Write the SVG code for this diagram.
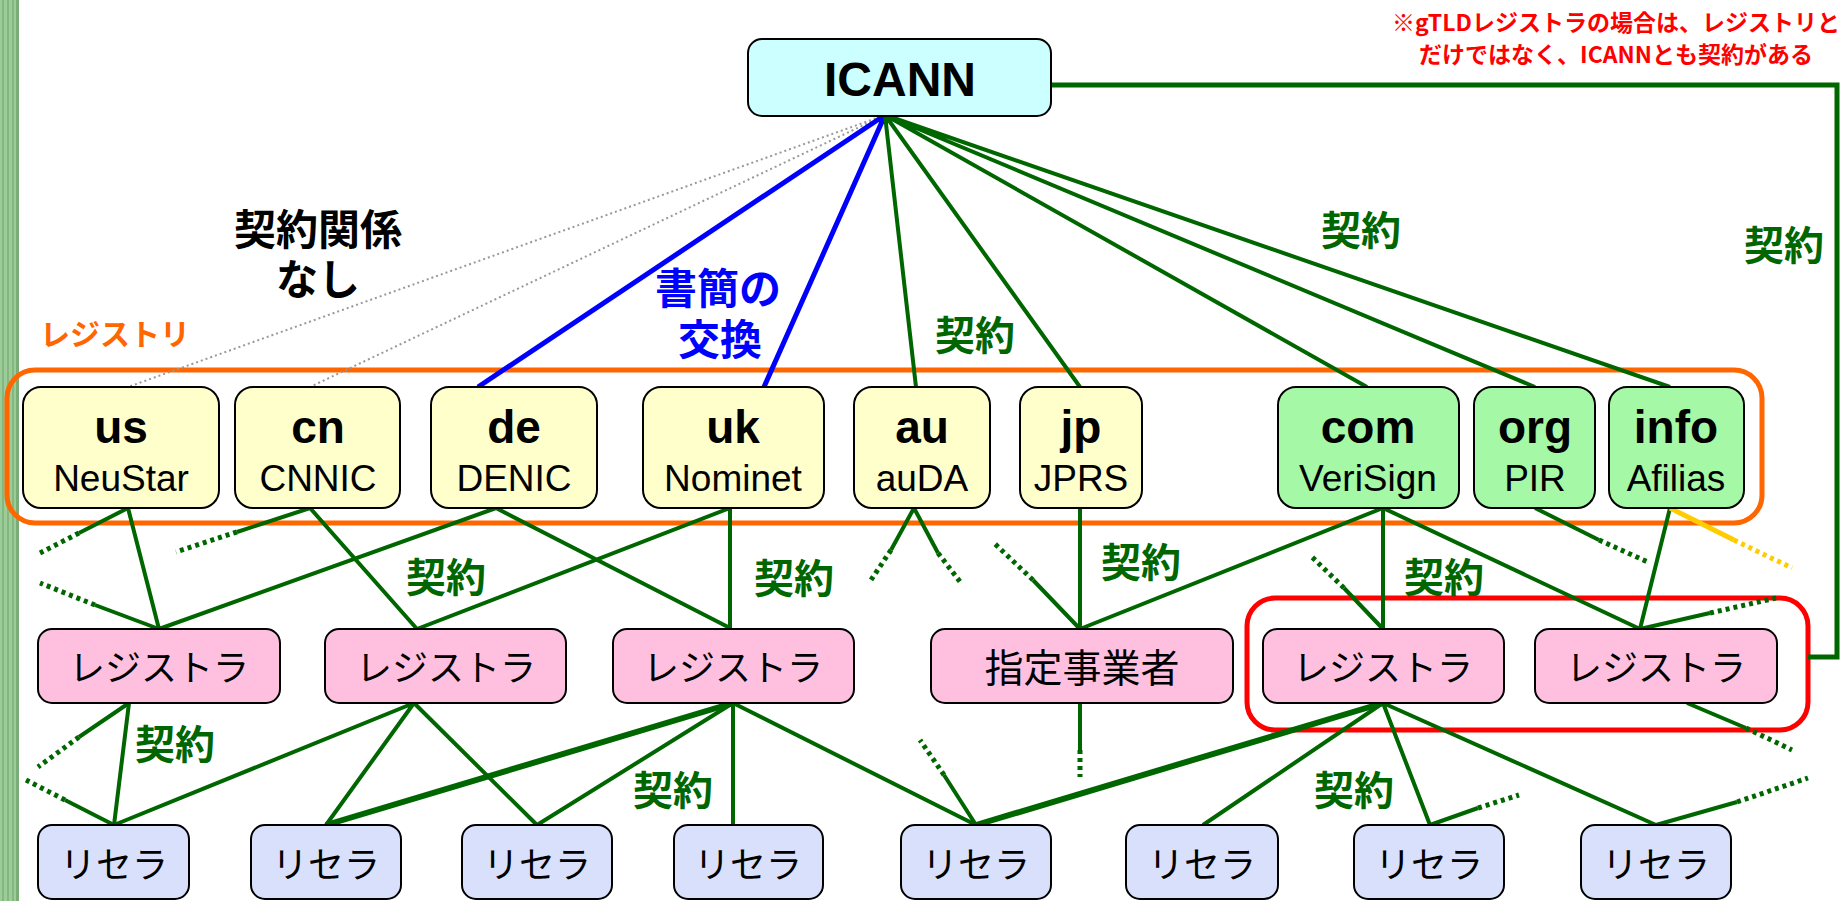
<svg xmlns="http://www.w3.org/2000/svg" width="1845" height="901" viewBox="0 0 1845 901">
<style>
.box{stroke:#000;stroke-width:2}
.reg{fill:#ffffcc}
.gtld{fill:#a4f8a6}
.rar{fill:#ffc0e0}
.res{fill:#d8e0fc}
.t{font-family:"Liberation Sans","Noto Sans CJK JP",sans-serif;text-anchor:middle;fill:#000}
.tld{font-size:46px;font-weight:bold}
.org{font-size:37px}
.jp{font-family:"Noto Sans CJK JP",sans-serif;text-anchor:middle;fill:#000}
.kana{font-size:36px}
.lbl{font-family:"Noto Sans CJK JP",sans-serif;text-anchor:middle;font-weight:bold}
.k{font-size:40px;fill:#006600}
.g{fill:none;stroke:#006600;stroke-width:4}
.gk{fill:none;stroke:#006600;stroke-width:6}
.d{fill:none;stroke:#006600;stroke-width:5;stroke-dasharray:4 4}
.y{fill:none;stroke:#ffcc00;stroke-width:5}
.yd{fill:none;stroke:#ffcc00;stroke-width:5;stroke-dasharray:4 4}
.b{fill:none;stroke:#0000ff;stroke-width:5}
.gr{fill:none;stroke:#999;stroke-width:2;stroke-dasharray:2 3}
</style>
<rect x="0" y="0" width="1845" height="901" fill="#fff"/>
<g id="stripe">
<rect x="0" y="0" width="19" height="901" fill="#9ccc98"/>
<rect x="2" y="0" width="2" height="901" fill="#84b880"/>
<rect x="7" y="0" width="2" height="901" fill="#84b880"/>
<rect x="12" y="0" width="2" height="901" fill="#84b880"/>
<rect x="16" y="0" width="3" height="901" fill="#7aac78"/>
</g>

<g id="frames">
<rect x="7" y="370" width="1755" height="153" rx="28" fill="none" stroke="#ff6600" stroke-width="5"/>
<rect x="1247" y="598" width="561" height="132" rx="28" fill="none" stroke="#ff0000" stroke-width="5"/>
</g>

<g id="connectors">
<path class="gr" d="M885,115 L128,387 M885,115 L310,387"/>
<path class="b" d="M885,115 L478,387 M885,115 L764,387"/>
<path class="g" d="M885,115 L916,387 M885,115 L1080,387 M885,115 L1367,387 M885,115 L1535,387 M885,115 L1670,387"/>
<path class="g" style="stroke-width:5" d="M1051,85 H1837 V657 H1808"/>
<path class="g" d="M128,508 L159,629 M496,508 L159,629 M310,508 L417,629 M730,508 L417,629 M496,508 L730,628 M730,508 L730,628 M1080,508 L1080,629 M1383,508 L1080,629 M1383,508 L1383,629 M1383,508 L1640,629 M1670,508 L1640,629"/>
<path class="g" d="M128,508 L79,533 M159,629 L95,605 M310,508 L237,532 M914,508 L891,550 M914,508 L938,553 M1080,629 L1033,580 M1383,629 L1344,588 M1535,508 L1599,540 M1640,629 L1710,613"/>
<path class="d" d="M79,533 L40,553 M95,605 L40,583 M237,532 L176,552 M891,550 L869,583 M938,553 L961,583 M1033,580 L993,542 M1344,588 L1312,557 M1599,540 L1650,563 M1710,613 L1776,598"/>
<path class="y" d="M1670,508 L1734,540"/>
<path class="yd" d="M1734,540 L1792,568"/>
<path class="g" d="M129,703 L114,825 M414,703 L114,825 M414,703 L326,825 M414,703 L537,825 M733,703 L537,825 M733,703 L733,825 M733,703 L976,825 M1383,703 L1203,825 M1383,703 L1430,825 M1383,703 L1656,825"/>
<path class="gk" d="M733,703 L326,825 M1383,703 L976,825"/>
<path class="g" d="M129,703 L79,737 M114,825 L65,800 M1080,703 L1080,750 M976,825 L944,775 M1430,825 L1478,808 M1656,825 L1737,802 M1687,703 L1746,728"/>
<path class="d" d="M79,737 L38,767 M65,800 L26,780 M1080,750 L1080,777 M944,775 L920,740 M1478,808 L1519,795 M1737,802 L1808,778 M1746,728 L1792,750"/>
</g>

<g id="icann">
<rect class="box" x="748" y="39" width="303" height="77" rx="14" fill="#ccffff"/>
<text class="t" x="900" y="96" style="font-size:48px;font-weight:bold">ICANN</text>
</g>

<g id="us"><rect class="box reg" x="23" y="387" width="196" height="121" rx="18"/><text class="t tld" x="121" y="443">us</text><text class="t org" x="121" y="491">NeuStar</text></g>
<g id="cn"><rect class="box reg" x="235" y="387" width="165" height="121" rx="18"/><text class="t tld" x="318" y="443">cn</text><text class="t org" x="318" y="491">CNNIC</text></g>
<g id="de"><rect class="box reg" x="431" y="387" width="166" height="121" rx="18"/><text class="t tld" x="514" y="443">de</text><text class="t org" x="514" y="491">DENIC</text></g>
<g id="uk"><rect class="box reg" x="643" y="387" width="181" height="121" rx="18"/><text class="t tld" x="733" y="443">uk</text><text class="t org" x="733" y="491">Nominet</text></g>
<g id="au"><rect class="box reg" x="854" y="387" width="136" height="121" rx="18"/><text class="t tld" x="922" y="443">au</text><text class="t org" x="922" y="491">auDA</text></g>
<g id="jp"><rect class="box reg" x="1020" y="387" width="122" height="121" rx="18"/><text class="t tld" x="1081" y="443">jp</text><text class="t org" x="1081" y="491">JPRS</text></g>
<g id="com"><rect class="box gtld" x="1278" y="387" width="181" height="121" rx="18"/><text class="t tld" x="1368" y="443">com</text><text class="t org" x="1368" y="491">VeriSign</text></g>
<g id="org"><rect class="box gtld" x="1474" y="387" width="121" height="121" rx="18"/><text class="t tld" x="1535" y="443">org</text><text class="t org" x="1535" y="491">PIR</text></g>
<g id="info"><rect class="box gtld" x="1609" y="387" width="135" height="121" rx="18"/><text class="t tld" x="1676" y="443">info</text><text class="t org" x="1676" y="491">Afilias</text></g>

<g id="registrar1"><rect class="box rar" x="38" y="629" width="242" height="74" rx="14"/><text class="jp kana" x="159" y="681">レジストラ</text></g>
<g id="registrar2"><rect class="box rar" x="325" y="629" width="241" height="74" rx="14"/><text class="jp kana" x="446" y="681">レジストラ</text></g>
<g id="registrar3"><rect class="box rar" x="613" y="629" width="241" height="74" rx="14"/><text class="jp kana" x="733" y="681">レジストラ</text></g>
<g id="designated"><rect class="box rar" x="931" y="629" width="302" height="74" rx="14"/><text class="jp" x="1082" y="682" style="font-size:39px">指定事業者</text></g>
<g id="registrar5"><rect class="box rar" x="1263" y="629" width="241" height="74" rx="14"/><text class="jp kana" x="1383" y="681">レジストラ</text></g>
<g id="registrar6"><rect class="box rar" x="1535" y="629" width="242" height="74" rx="14"/><text class="jp kana" x="1656" y="681">レジストラ</text></g>

<g id="reseller1"><rect class="box res" x="38" y="825" width="151" height="74" rx="14"/><text class="jp kana" x="114" y="878">リセラ</text></g>
<g id="reseller2"><rect class="box res" x="251" y="825" width="150" height="74" rx="14"/><text class="jp kana" x="326" y="878">リセラ</text></g>
<g id="reseller3"><rect class="box res" x="462" y="825" width="150" height="74" rx="14"/><text class="jp kana" x="537" y="878">リセラ</text></g>
<g id="reseller4"><rect class="box res" x="674" y="825" width="149" height="74" rx="14"/><text class="jp kana" x="748" y="878">リセラ</text></g>
<g id="reseller5"><rect class="box res" x="901" y="825" width="150" height="74" rx="14"/><text class="jp kana" x="976" y="878">リセラ</text></g>
<g id="reseller6"><rect class="box res" x="1126" y="825" width="152" height="74" rx="14"/><text class="jp kana" x="1202" y="878">リセラ</text></g>
<g id="reseller7"><rect class="box res" x="1354" y="825" width="150" height="74" rx="14"/><text class="jp kana" x="1429" y="878">リセラ</text></g>
<g id="reseller8"><rect class="box res" x="1581" y="825" width="150" height="74" rx="14"/><text class="jp kana" x="1656" y="878">リセラ</text></g>

<g id="labels">
<text class="lbl" style="font-size:42px;fill:#000"><tspan x="318" y="245">契約関係</tspan><tspan x="318" y="295">なし</tspan></text>
<text class="lbl" x="40" y="345" style="font-size:30px;fill:#ff6600;text-anchor:start">レジストリ</text>
<text class="lbl" style="font-size:42px;fill:#0000ff"><tspan x="718" y="304">書簡の</tspan><tspan x="720" y="355">交換</tspan></text>
<text class="lbl k" x="975" y="350">契約</text>
<text class="lbl k" x="1361" y="245">契約</text>
<text class="lbl k" x="1784" y="260">契約</text>
<text class="lbl k" x="446" y="592">契約</text>
<text class="lbl k" x="794" y="593">契約</text>
<text class="lbl k" x="1141" y="577">契約</text>
<text class="lbl k" x="1444" y="592">契約</text>
<text class="lbl k" x="175" y="759">契約</text>
<text class="lbl k" x="673" y="805">契約</text>
<text class="lbl k" x="1354" y="805">契約</text>
<text class="lbl" style="font-size:23px;fill:#ff0000"><tspan x="1616" y="31">※gTLDレジストラの場合は、レジストリと</tspan><tspan x="1616" y="63">だけではなく、ICANNとも契約がある</tspan></text>
</g>
</svg>
